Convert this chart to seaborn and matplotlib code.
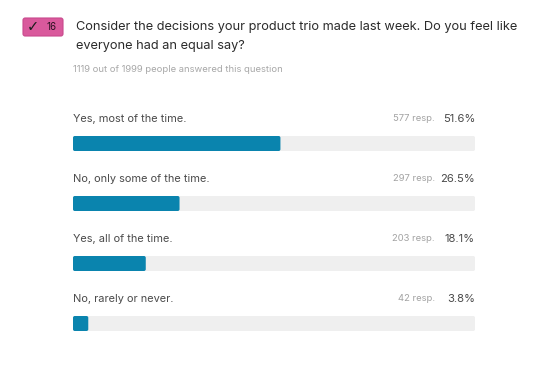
import matplotlib
matplotlib.use("Agg")
import matplotlib.pyplot as plt
from matplotlib.patches import FancyBboxPatch
import pandas as pd
import seaborn as sns

answers = ["Yes, most of the time.", "No, only some of the time.", "Yes, all of the time.", "No, rarely or never."]
responses = [577, 297, 203, 42]
percents = [51.6, 26.5, 18.1, 3.8]
full_scale = [100, 100, 100, 100]
title_lines = ["Consider the decisions your product trio made last week. Do you feel like", "everyone had an equal say?"]
subtitle = "1119 out of 1999 people answered this question"
badge_count = "16"

sns.set_theme(style="white")
plt.rcParams["font.family"] = ["Inter", "DejaVu Sans"]

W, H = 550, 375
fig = plt.figure(figsize=(W / 100, H / 100), dpi=100, facecolor="white")
ax = fig.add_axes([73 / W, 1 - 353.5 / H, 402 / W, 240 / H])
df = pd.DataFrame({"answer": answers, "pct": percents, "track": full_scale})
sns.barplot(data=df, x="track", y="answer", color="#efefef", saturation=1, width=0.25, ax=ax, zorder=1)
n_track = len(ax.patches)
sns.barplot(data=df, x="pct", y="answer", color="#0a84ae", saturation=1, width=0.25, ax=ax, zorder=2)
ax.set_xlim(0, 100)
ax.set_ylim(3.5, -0.5)
ax.set_axis_off()

# rounded bars from the library's own bar rectangles
aspect = (402 / 100) / 60
for i, p in enumerate(list(ax.patches)):
    x, y, w, h = p.get_x(), p.get_y(), p.get_width(), p.get_height()
    p.set_visible(False)
    r = 0.45
    ax.add_patch(FancyBboxPatch((x + r, y + r * aspect), w - 2 * r, h - 2 * r * aspect,
                                boxstyle=f"round,pad={r},rounding_size={r}", mutation_aspect=aspect,
                                fc=p.get_facecolor(), ec="none", zorder=1 if i < n_track else 2))

trans = ax.get_yaxis_transform()
for i, (a, n, pc) in enumerate(zip(answers, responses, percents)):
    ypx = i - 0.415
    ax.text(0, ypx, a, transform=trans, fontsize=7.9, color="#4a4a4a", va="center", ha="left")
    ax.text(1, ypx, f"{pc:.1f}%", transform=trans, fontsize=8.1, color="#4a4a4a", va="center", ha="right")
    ax.text(0.9, ypx, f"{n} resp.", transform=trans, fontsize=6.8, color="#a3a3a3", va="center", ha="right")

fx = lambda v: v / W
fy = lambda v: 1 - v / H
fig.text(fx(76), fy(27), title_lines[0], fontsize=9.2, color="#2b2b2b", va="center", ha="left")
fig.text(fx(76), fy(46), title_lines[1], fontsize=9.2, color="#2b2b2b", va="center", ha="left")
fig.text(fx(73), fy(69), subtitle, fontsize=6.8, color="#a8a8a8", va="center", ha="left")

# badge
badge = FancyBboxPatch((fx(23), fy(36)), 40 / W, 18 / H, transform=fig.transFigure,
                       boxstyle="round,pad=0,rounding_size=0.004", mutation_aspect=W / H,
                       fc="#d9599c", ec="#c9488c", lw=0.8)
fig.add_artist(badge)
fig.text(fx(52), fy(27), badge_count, fontsize=7, color="#2a1020", va="center", ha="center")
fig.text(fx(32.5), fy(26.5), "\u2713", fontsize=10.5, family="DejaVu Sans", color="#1c1c1c", va="center", ha="center")

fig.savefig("out.png", dpi=100, facecolor="white")
